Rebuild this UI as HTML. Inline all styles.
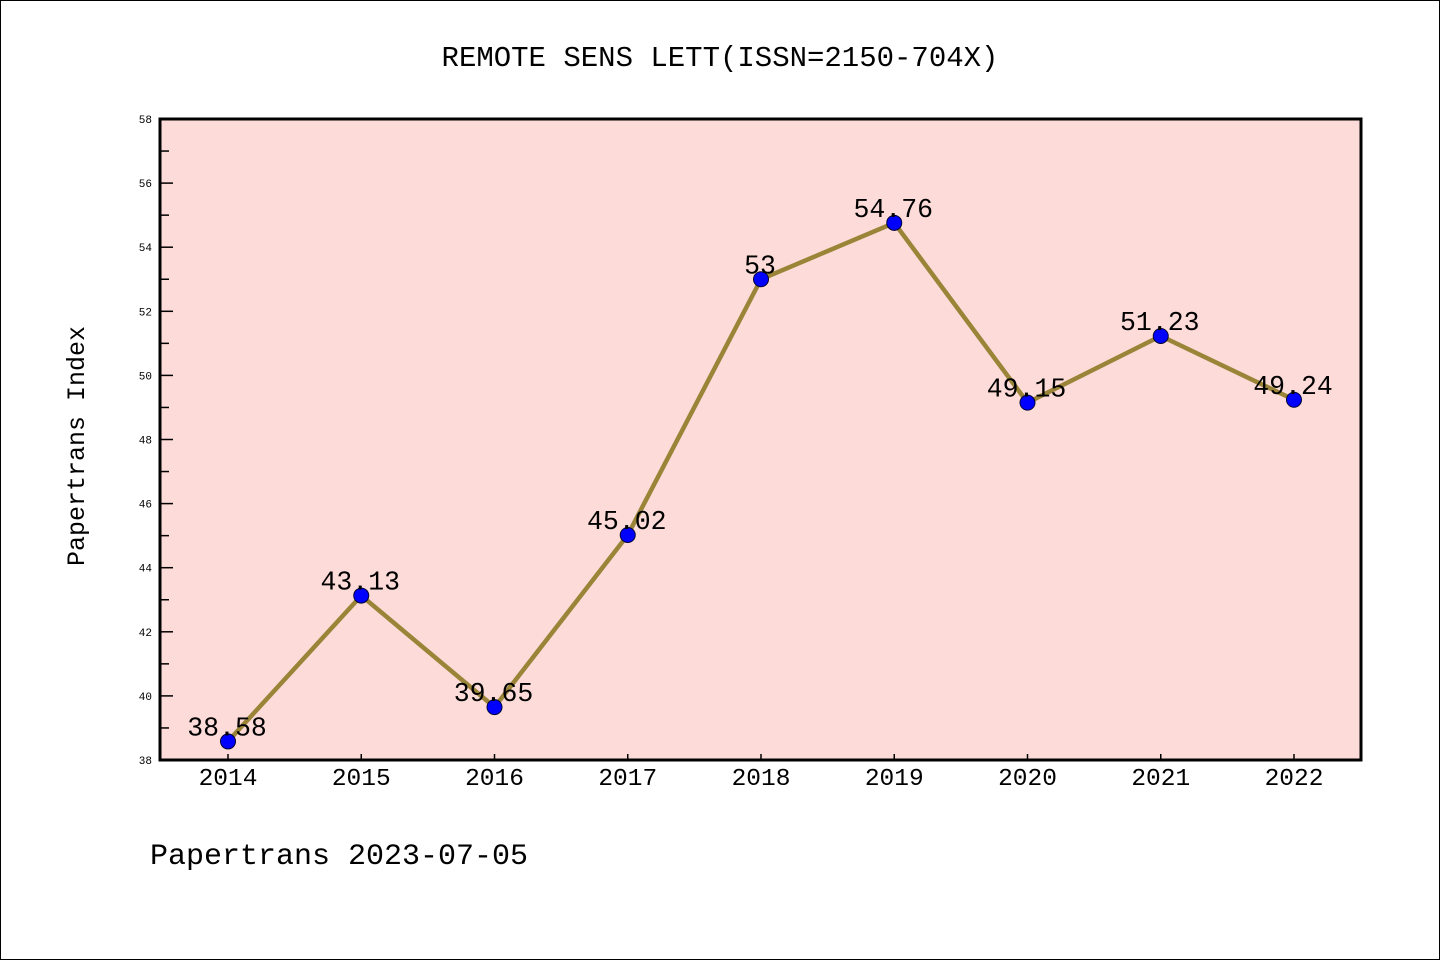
<!DOCTYPE html>
<html><head><meta charset="utf-8"><style>
html,body{margin:0;padding:0;background:#fff}
svg{display:block;font-family:"WenQuanYi Zen Hei Mono","Liberation Mono","DejaVu Sans Mono",monospace}
</style></head><body>
<svg width="1440" height="960" viewBox="0 0 1440 960" xmlns="http://www.w3.org/2000/svg">
<rect x="0.5" y="0.5" width="1439" height="959" fill="#fff" stroke="#000" stroke-width="1"/>
<text x="720" y="66" text-anchor="middle" font-size="29">REMOTE SENS LETT(ISSN=2150-704X)</text>
<rect x="160" y="119" width="1201" height="641" fill="#fddbd8"/>
<g id="ticks"></g>
<g id="series"></g>
<rect x="160" y="119" width="1201" height="641" fill="none" stroke="#000" stroke-width="3"/>
<text transform="translate(84,446) rotate(-90)" text-anchor="middle" font-size="25">Papertrans Index</text>
<text x="150" y="864" font-size="30">Papertrans 2023-07-05</text>
</svg>
<script>
const years = ['2014','2015','2016','2017','2018','2019','2020','2021','2022'];
const values = [38.58, 43.13, 39.65, 45.02, 53, 54.76, 49.15, 51.23, 49.24];
const valueLabels = ['38.58','43.13','39.65','45.02','53','54.76','49.15','51.23','49.24'];
const yTicks = [38,40,42,44,46,48,50,52,54,56,58];
const yMin = 38, yMax = 58;
const NS='http://www.w3.org/2000/svg';
function x(i){return 228 + i*(1294-228)/(years.length-1);}
function y(v){return 760 - (v-yMin)/(yMax-yMin)*641;}
function mk(t,a,p){const e=document.createElementNS(NS,t);for(const k in a)e.setAttribute(k,a[k]);p.appendChild(e);return e;}
const tg=document.getElementById('ticks'), sg=document.getElementById('series');
yTicks.forEach((v,i)=>{
  const t=mk('line',{x1:160,x2:173,y1:y(v),y2:y(v),stroke:'#000','stroke-width':1.5},tg);
  
  
  const l=mk('text',{x:152,y:y(v)+4,'text-anchor':'end','font-size':11},tg);
  l.textContent=v;
  
  
  if(i<yTicks.length-1){
    const m=mk('line',{x1:160,x2:169,y1:y(v+1),y2:y(v+1),stroke:'#000','stroke-width':1.5},tg);
    
    
  }
});
years.forEach((yr,i)=>{
  const t=mk('line',{x1:x(i),x2:x(i),y1:760,y2:754,stroke:'#000','stroke-width':1.5},tg);
  
  
  const l=mk('text',{x:x(i),y:785,'text-anchor':'middle','font-size':24.5},tg);
  l.textContent=yr;
  
  
});
const line=mk('polyline',{points:values.map((v,i)=>x(i)+','+y(v)).join(' '),fill:'none',stroke:'#9a8438','stroke-width':4.5,'stroke-linejoin':'round'},sg);


values.forEach((v,i)=>{
  const c=mk('circle',{cx:x(i),cy:y(v),r:7.5,fill:'#0000ff',stroke:'#000033','stroke-width':1},sg);
  
  
  const l=mk('text',{x:x(i)-1,y:y(v)-6,'text-anchor':'middle','font-size':26.5,fill:'#000'},sg);
  l.textContent=valueLabels[i];
  
  
});
</script>
</body></html>
